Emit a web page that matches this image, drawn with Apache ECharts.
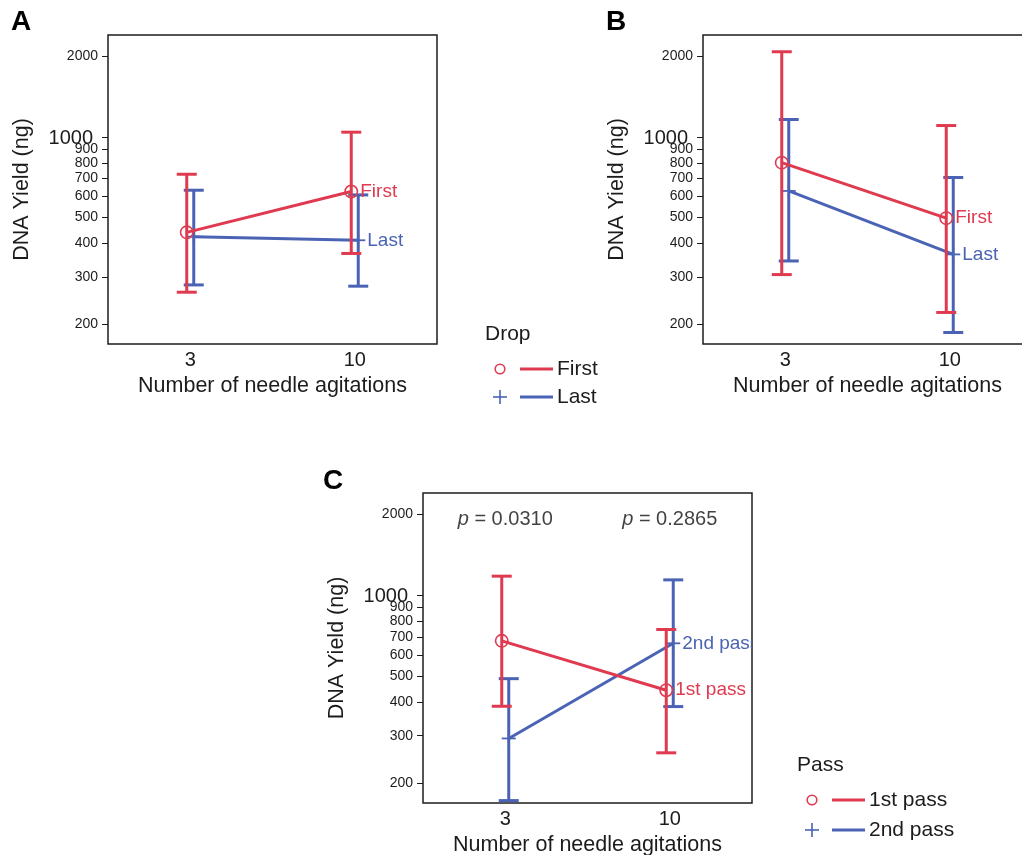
<!DOCTYPE html>
<html><head><meta charset="utf-8">
<script src="https://cdn.jsdelivr.net/npm/echarts@6/dist/echarts.min.js"></script>
<style>html,body{margin:0;padding:0;background:#fff}#c{width:1022px;height:855px}</style>
</head><body><div id="c"></div>
<script>
// ---------------- DATA ----------------
const categories = ['3', '10'];
const yTicks = [200, 300, 400, 500, 600, 700, 800, 900, 1000, 2000];

// Panel A (Drop)
const aFirstMean = [440, 625];
const aFirstLow  = [263, 367];
const aFirstHigh = [725, 1041];
const aLastMean  = [424, 411];
const aLastLow   = [280, 277];
const aLastHigh  = [632, 607];

// Panel B (Drop)
const bFirstMean = [801, 497];
const bFirstLow  = [306, 221];
const bFirstHigh = [2078, 1102];
const bLastMean  = [628, 364];
const bLastLow   = [344, 186];
const bLastHigh  = [1161, 705];

// Panel C (Pass)
const c1Mean = [676, 443];
const c1Low  = [386, 259];
const c1High = [1177, 745];
const c2Mean = [293, 662];
const c2Low  = [172, 385];
const c2High = [489, 1140];
const pValues = ['0.0310', '0.2865'];

const dropTitle = 'Drop';
const dropNames = ['First', 'Last'];
const passTitle = 'Pass';
const passNames = ['1st pass', '2nd pass'];
const panelLetters = ['A', 'B', 'C'];

// ---------------- STYLE ----------------
const FONT = "'Liberation Sans', Arial, Helvetica, sans-serif";
const RED = '#DF3A4F', BLUE = '#4A63B4', INK = '#1c1c1c';
const DODGE = 3.5, CAP = 10, LW = 3;
const Y_MIN = 168.5, Y_MAX = 2400;
const P_LABEL_VALUE = 1920;

const grids = [
  {left: 108, top: 35, width: 329, height: 309},
  {left: 703, top: 35, width: 329, height: 309},
  {left: 423, top: 493, width: 329, height: 310}
];

function groupSeries(name, gi, means, lows, highs, color, dir, marker) {
  return {
    type: 'custom', name: name, xAxisIndex: gi, yAxisIndex: gi, clip: true,
    data: categories.map((c, k) => [c, means[k], lows[k], highs[k]]),
    encode: {x: 0, y: [1, 2, 3]},
    renderItem: function (params, api) {
      const k = params.dataIndex;
      const off = dir * DODGE;
      const pm = api.coord([k, api.value(1)]);
      const pl = api.coord([k, api.value(2)]);
      const ph = api.coord([k, api.value(3)]);
      const x = pm[0] + off, y = pm[1];
      const st = {stroke: color, lineWidth: LW};
      const ch = [
        {type: 'line', shape: {x1: x, y1: ph[1], x2: x, y2: pl[1]}, style: st},
        {type: 'line', shape: {x1: x - CAP, y1: ph[1], x2: x + CAP, y2: ph[1]}, style: st},
        {type: 'line', shape: {x1: x - CAP, y1: pl[1], x2: x + CAP, y2: pl[1]}, style: st}
      ];
      if (k < means.length - 1) {
        const pn = api.coord([k + 1, means[k + 1]]);
        ch.push({type: 'line', shape: {x1: x, y1: y, x2: pn[0] + off, y2: pn[1]}, style: st});
      }
      if (marker === 'circle') {
        ch.push({type: 'circle', shape: {cx: x, cy: y, r: 6.2}, style: {fill: 'none', stroke: color, lineWidth: 1.6}});
      } else {
        ch.push({type: 'line', shape: {x1: x - 7, y1: y, x2: x + 7, y2: y}, style: {stroke: color, lineWidth: 1.8}});
        ch.push({type: 'line', shape: {x1: x, y1: y - 7, x2: x, y2: y + 7}, style: {stroke: color, lineWidth: 1.8}});
      }
      if (k === means.length - 1) {
        ch.push({type: 'text', x: x + 9, y: y, style: {text: name, fill: color, fontSize: 19, fontFamily: FONT, align: 'left', verticalAlign: 'middle'}});
      }
      return {type: 'group', children: ch};
    }
  };
}

function legendGraphics(title, names, x0, yTitle, yRows) {
  const els = [{type: 'text', x: x0 - 15, y: yTitle, style: {text: title, fill: INK, fontSize: 21, fontFamily: FONT, verticalAlign: 'middle'}}];
  names.forEach((n, i) => {
    const color = i === 0 ? RED : BLUE;
    const y = yRows[i];
    if (i === 0) {
      els.push({type: 'circle', shape: {cx: x0, cy: y, r: 4.8}, style: {fill: 'none', stroke: color, lineWidth: 1.6}});
    } else {
      els.push({type: 'line', shape: {x1: x0 - 7, y1: y, x2: x0 + 7, y2: y}, style: {stroke: color, lineWidth: 1.6}});
      els.push({type: 'line', shape: {x1: x0, y1: y - 7, x2: x0, y2: y + 7}, style: {stroke: color, lineWidth: 1.6}});
    }
    els.push({type: 'line', shape: {x1: x0 + 20, y1: y, x2: x0 + 53, y2: y}, style: {stroke: color, lineWidth: 3}});
    els.push({type: 'text', x: x0 + 57, y: y, style: {text: n, fill: INK, fontSize: 21, fontFamily: FONT, verticalAlign: 'middle'}});
  });
  return els;
}

const letterPos = [[11, 22.5], [606, 22.5], [323, 481]];

const option = {
  animation: false,
  backgroundColor: '#fff',
  grid: grids.map(g => Object.assign({show: true, borderColor: INK, borderWidth: 1.5, backgroundColor: 'transparent', containLabel: false, outerBoundsMode: 'none'}, g)),
  xAxis: grids.map((g, i) => ({
    type: 'category', gridIndex: i, data: categories, boundaryGap: true,
    axisLine: {show: false}, axisTick: {show: false}, splitLine: {show: false},
    axisLabel: {fontSize: 20, color: INK, fontFamily: FONT, margin: 6},
    name: 'Number of needle agitations', nameLocation: 'middle', nameGap: 31,
    nameTextStyle: {fontSize: 21.5, color: INK, fontFamily: FONT}
  })),
  yAxis: grids.map((g, i) => ({
    type: 'log', logBase: 10, gridIndex: i, min: Y_MIN, max: Y_MAX,
    name: 'DNA Yield (ng)', nameLocation: 'middle', nameGap: 75,
    nameTextStyle: {fontSize: 21.5, color: INK, fontFamily: FONT},
    axisLine: {show: false},
    axisTick: {show: true, inside: false, length: 6, customValues: yTicks, lineStyle: {color: INK, width: 1}},
    axisLabel: {
      customValues: yTicks, margin: 10, fontSize: 14, color: INK, fontFamily: FONT,
      formatter: v => Math.round(v) === 1000 ? '{big|1000}' : String(Math.round(v)),
      rich: {big: {fontSize: 20, color: INK, fontFamily: FONT, padding: [3, 5, 0, 0]}}
    },
    splitLine: {show: false}, minorTick: {show: false}
  })),
  series: [
    groupSeries(dropNames[1], 0, aLastMean, aLastLow, aLastHigh, BLUE, 1, 'plus'),
    groupSeries(dropNames[0], 0, aFirstMean, aFirstLow, aFirstHigh, RED, -1, 'circle'),
    groupSeries(dropNames[1], 1, bLastMean, bLastLow, bLastHigh, BLUE, 1, 'plus'),
    groupSeries(dropNames[0], 1, bFirstMean, bFirstLow, bFirstHigh, RED, -1, 'circle'),
    groupSeries(passNames[1], 2, c2Mean, c2Low, c2High, BLUE, 1, 'plus'),
    groupSeries(passNames[0], 2, c1Mean, c1Low, c1High, RED, -1, 'circle'),
    {
      type: 'scatter', xAxisIndex: 2, yAxisIndex: 2, silent: true,
      data: categories.map(c => [c, P_LABEL_VALUE]),
      symbolSize: 1, itemStyle: {color: 'rgba(0,0,0,0)'},
      label: {
        show: true, position: 'inside', fontSize: 20, color: '#111', fontFamily: FONT,
        formatter: p => '{i|p} = ' + pValues[p.dataIndex],
        rich: {i: {fontStyle: 'italic', fontSize: 20, color: '#111', fontFamily: FONT}}
      }
    }
  ],
  graphic: [].concat(
    panelLetters.map((t, i) => ({type: 'text', x: letterPos[i][0], y: letterPos[i][1], style: {text: t, fill: '#000', fontSize: 28, fontWeight: 'bold', fontFamily: FONT, verticalAlign: 'middle'}})),
    legendGraphics(dropTitle, dropNames, 500, 334, [369, 397]),
    legendGraphics(passTitle, passNames, 812, 765, [800, 830])
  )
};

const chart = echarts.init(document.getElementById('c'), null, {renderer: 'canvas'});
chart.setOption(option);
</script>
</body></html>
